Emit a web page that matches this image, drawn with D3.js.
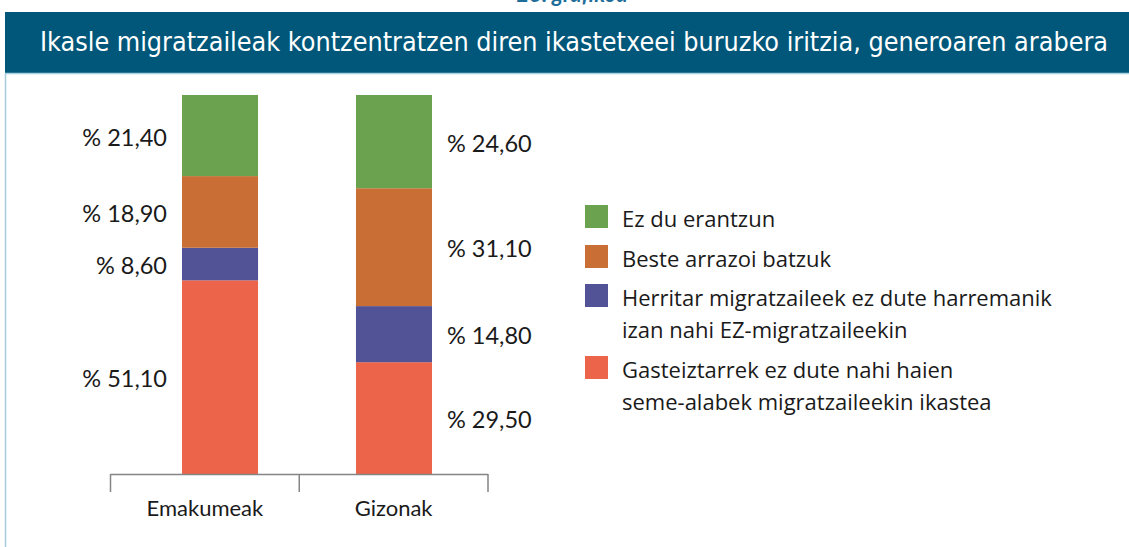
<!DOCTYPE html>
<html>
<head>
<meta charset="utf-8">
<script src="https://cdn.jsdelivr.net/npm/d3@7"></script>
<style>
  body { margin: 0; background: #fff; }
</style>
</head>
<body>
<div id="chart"></div>
<script>

// data
let categories = ["Emakumeak", "Gizonak"];
let seriesNames = ["gasteiztarrek", "herritar", "beste", "ezDu"]; // bottom -> top
let gasteiztarrek = [51.1, 29.5];
let herritar = [8.6, 14.8];
let beste = [18.9, 31.1];
let ezDu = [21.4, 24.6];
let seriesColors = ["#ec644a", "#525297", "#c96f35", "#6aa24f"];
let legendLines = [
    ["Ez du erantzun"],
    ["Beste arrazoi batzuk"],
    ["Herritar migratzaileek ez dute harremanik", "izan nahi EZ-migratzaileekin"],
    ["Gasteiztarrek ez dute nahi haien", "seme-alabek migratzaileekin ikastea"]
];
let legendColors = ["#6aa24f", "#c96f35", "#525297", "#ec644a"];
let title = "Ikasle migratzaileak kontzentratzen diren ikastetxeei buruzko iritzia, generoaren arabera";
let caption = "23. grafikoa";

let values = {gasteiztarrek, herritar, beste, ezDu};
let table = categories.map((c, i) => {
    let row = {cat: c};
    seriesNames.forEach(s => row[s] = values[s][i]);
    return row;
});

let width = 1129, height = 547;
let labelFont = "Lato, 'Open Sans', sans-serif";

let svg = d3.select("#chart")
    .append("svg")
        .attr("width", width)
        .attr("height", height)
        .style("font-family", labelFont);

// caption, cut at the top edge like in the source
svg.append("text")
    .attr("x", 572)
    .attr("y", 2)
    .attr("text-anchor", "middle")
    .attr("fill", "#1f6e9a")
    .attr("font-size", 22)
    .attr("font-weight", "bold")
    .attr("font-style", "italic")
    .text(caption);

// title band
svg.append("rect")
    .attr("x", 5).attr("y", 12)
    .attr("width", width - 5).attr("height", 61)
    .attr("fill", "#00577a");
svg.append("line")
    .attr("x1", 5).attr("x2", width)
    .attr("y1", 73.5).attr("y2", 73.5)
    .attr("stroke", "#a9d0e1").attr("stroke-width", 1.5);
svg.append("line")
    .attr("x1", 5.5).attr("x2", 5.5)
    .attr("y1", 73).attr("y2", height)
    .attr("stroke", "#a9cbdc").attr("stroke-width", 1.5);

svg.append("text")
    .attr("x", 574)
    .attr("y", 51)
    .attr("text-anchor", "middle")
    .attr("fill", "#fff")
    .attr("font-size", 26)
    .style("font-family", "'DejaVu Sans Condensed', 'Liberation Sans Narrow', Lato, sans-serif")
    .attr("textLength", 1068)
    .attr("lengthAdjust", "spacingAndGlyphs")
    .text(title);

// scales
let xAxisScale = d3.scaleBand()
    .domain(categories)
    .range([110.5, 488]);

let xBar = d3.scaleBand()
    .domain(categories)
    .range([182, 432])
    .paddingInner(0.563);

let y = d3.scaleLinear()
    .domain([0, 100])
    .range([474, 95]);

let stack = d3.stack().keys(seriesNames)(table);

let layers = svg.selectAll("g.layer")
    .data(stack)
    .join("g")
        .attr("class", "layer")
        .attr("fill", (d, i) => seriesColors[i]);

layers.selectAll("rect")
    .data(d => d)
    .join("rect")
        .attr("x", d => xBar(d.data.cat))
        .attr("y", d => y(d[1]))
        .attr("width", xBar.bandwidth())
        .attr("height", d => y(d[0]) - y(d[1]));

// value labels: left of first bar, right of second
let fmt = v => "% " + v.toFixed(2).replace(".", ",");
layers.selectAll("text")
    .data(d => d)
    .join("text")
        .attr("x", (d, i) => i === 0 ? xBar(d.data.cat) - 15 : xBar(d.data.cat) + xBar.bandwidth() + 15)
        .attr("y", d => (y(d[0]) + y(d[1])) / 2 + 10)
        .attr("text-anchor", (d, i) => i === 0 ? "end" : "start")
        .attr("fill", "#1a1a1a")
        .attr("font-size", 23.5)
        .text(d => fmt(d[1] - d[0]));

// axis with ticks at band edges
let axis = svg.append("g");
let [x0, x1] = xAxisScale.range();
axis.append("line")
    .attr("x1", x0).attr("x2", x1)
    .attr("y1", 474.5).attr("y2", 474.5)
    .attr("stroke", "#858585").attr("stroke-width", 1.5);
axis.selectAll("line.tick")
    .data(categories.map(c => xAxisScale(c)).concat([x1]))
    .join("line")
        .attr("class", "tick")
        .attr("x1", d => d).attr("x2", d => d)
        .attr("y1", 474).attr("y2", 492)
        .attr("stroke", "#858585").attr("stroke-width", 1.5);
axis.selectAll("text")
    .data(categories)
    .join("text")
        .attr("x", d => xAxisScale(d) + xAxisScale.bandwidth() / 2)
        .attr("y", 516)
        .attr("text-anchor", "middle")
        .attr("fill", "#1a1a1a")
        .attr("font-size", 22)
        .text(d => d);

// legend
let legendY = [205, 245, 284, 356];
let legend = svg.selectAll("g.legend")
    .data(legendLines)
    .join("g")
        .attr("class", "legend")
        .attr("transform", (d, i) => `translate(585,${legendY[i]})`);

legend.append("rect")
    .attr("width", 23).attr("height", 23)
    .attr("fill", (d, i) => legendColors[i]);

legend.each(function(lines) {
    d3.select(this).selectAll("text")
        .data(lines)
        .join("text")
            .attr("x", 37)
            .attr("y", (l, j) => 22 + j * 32)
            .attr("fill", "#1a1a1a")
            .attr("font-size", 22)
            .style("font-family", "'Open Sans', Lato, sans-serif")
            .text(l => l);
});
</script>
</body>
</html>
